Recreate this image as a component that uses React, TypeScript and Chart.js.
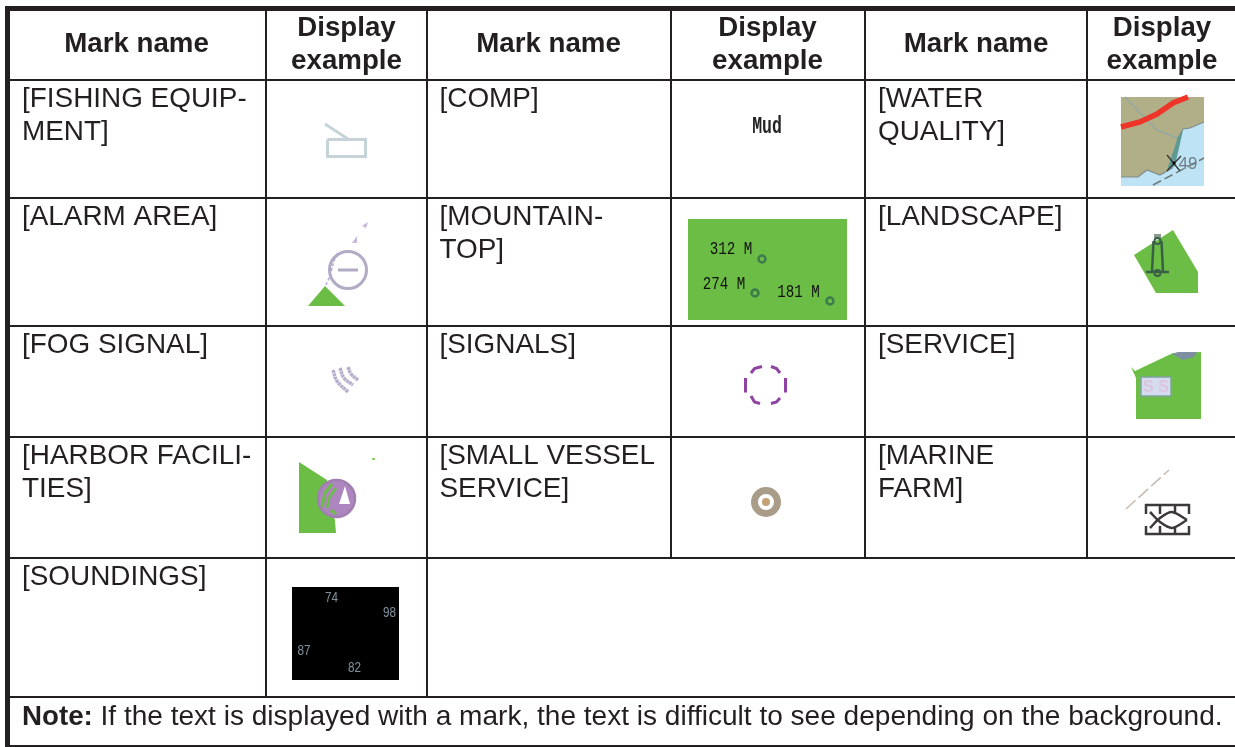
import React, { useEffect, useRef } from "react";
import { Chart, registerables } from "chart.js";

Chart.register(...registerables);

const WIDTH = 1235;
const HEIGHT = 747;
const INK = "#231f20";
const FONT = '"Liberation Sans", Arial, sans-serif';
const MONO = '"Liberation Mono", monospace';

// ---- table content ----
const headerName = "Mark name";
const headerExample = ["Display", "example"];
const column1Names = [["[FISHING EQUIP-", "MENT]"], ["[ALARM AREA]"], ["[FOG SIGNAL]"], ["[HARBOR FACILI-", "TIES]"], ["[SOUNDINGS]"]];
const column2Names = [["[COMP]"], ["[MOUNTAIN-", "TOP]"], ["[SIGNALS]"], ["[SMALL VESSEL", "SERVICE]"]];
const column3Names = [["[WATER", "QUALITY]"], ["[LANDSCAPE]"], ["[SERVICE]"], ["[MARINE", "FARM]"]];
const noteLead = "Note:";
const noteBody = " If the text is displayed with a mark, the text is difficult to see depending on the background.";
const compLabel = "Mud";
const mountainLabels = ["312 M", "274 M", "181 M"];
const soundingLabels = ["74", "98", "87", "82"];
const waterDepthLabel = "49";
const serviceLabel = "S S";

// ---- table rules ----
const columnRules = [266, 427, 671, 865, 1087];
const rowRules = [80, 198, 326, 437, 558, 697];
const rowTextTops = [80, 198, 326, 437, 558];

type Pt = { x: number; y: number };
const P = (x: number, y: number): Pt => ({ x, y });

const datasets: any[] = [];
const line = (pts: Pt[], color: string, width = 2, dash: number[] = [], tension = 0) =>
  datasets.push({
    data: pts, showLine: true, fill: false, borderColor: color, borderWidth: width,
    borderDash: dash, pointRadius: 0, tension, borderCapStyle: "butt", clip: false,
  });
const poly = (pts: Pt[], color: string, stroke?: string, width = 0) =>
  datasets.push({
    data: [...pts, pts[0]], showLine: true, fill: "shape", backgroundColor: color,
    borderColor: stroke ?? color, borderWidth: stroke ? width : 0, pointRadius: 0, tension: 0, clip: false,
  });
const rect = (x0: number, y0: number, x1: number, y1: number, color: string, stroke?: string, width = 0) =>
  poly([P(x0, y0), P(x1, y0), P(x1, y1), P(x0, y1)], color, stroke, width);
const dot = (pts: Pt[], r: number, fill: string, stroke = "rgba(0,0,0,0)", width = 0) =>
  datasets.push({
    data: pts, showLine: false, pointRadius: r, pointStyle: "circle", pointBackgroundColor: fill,
    pointBorderColor: stroke, pointBorderWidth: width, clip: false,
  });

// --- Fishing equipment
const PALE = "#c6d4d9";
rect(327.5, 139.5, 365.5, 156.5, "#ffffff", PALE, 3);
line([P(325, 124), P(348, 139)], PALE, 3);

// --- Alarm area
poly([P(308, 306), P(325, 286), P(345, 306)], "#6cbd45");
dot([P(348, 270)], 18.5, "#ffffff", "#b3abc6", 3);
line([P(338, 270), P(358, 270)], "#b3abc6", 3);
poly([P(362, 226), P(368, 222), P(366, 228)], "#c4b8dc");
poly([P(352, 243), P(357, 236), P(357, 243)], "#c4b8dc");
line([P(326, 285), P(329, 278), P(335, 258), P(342, 252)], "#b6a8d4", 1.5, [3, 2]);

// --- Fog signal
const FOG = "#b7aecb";
line([P(333, 370), P(337, 381), P(348, 392)], FOG, 3.5, [3, 0.5], 0.4);
line([P(340, 368), P(344, 378), P(353, 385)], FOG, 3.5, [3, 0.5], 0.4);
line([P(348, 367), P(351, 374), P(358, 380)], FOG, 3.5, [3, 0.5], 0.4);

// --- Harbor facilities
poly([P(299, 462), P(327, 480), P(335, 521), P(336, 533), P(299, 533)], "#6cbd45");
dot([P(336.5, 498.5)], 18.5, "#ad85bf", "#a07fb0", 2.5);
poly([P(345, 486), P(339, 504), P(350, 504)], "#ffffff");
line([P(322, 507), P(325, 493), P(332, 484)], "#6cbd45", 3);
line([P(327, 508), P(329, 498), P(336, 488)], "#6cbd45", 2.5);
line([P(331, 510), P(336, 514)], "#6cbd45", 3);
line([P(372, 459), P(375, 459)], "#6cbd45", 1.5);

// --- Mountain top
rect(688, 219, 847, 320, "#6cbd45");
dot([P(762, 259), P(755, 293), P(830, 301)], 3.5, "rgba(0,0,0,0)", "#3d7a4e", 2.5);

// --- Signals
const SIG = "#8e44a0";
line([P(785.5, 378), P(785.5, 392.5)], SIG, 3);
line([P(745.5, 378), P(745.5, 392.5)], SIG, 3);
line([P(751, 373), P(754.5, 368.5), P(762, 366.5)], SIG, 3);
line([P(771, 366.5), P(776.5, 368.5), P(780, 373)], SIG, 3);
line([P(751, 396), P(754.5, 402), P(760, 403.5)], SIG, 3);
line([P(771, 403.5), P(776.5, 402), P(780, 398)], SIG, 3);

// --- Small vessel service
dot([P(766, 502)], 11.5, "#ffffff", "#a99c88", 7);
dot([P(766, 502)], 4, "#c2a173");

// --- Water quality
rect(1121, 97, 1204, 186, "#bee3f5");
poly(
  [P(1121, 97), P(1204, 97), P(1204, 122), P(1190, 128), P(1183, 129), P(1178, 138), P(1172, 168), P(1160, 175), P(1147, 170), P(1138, 177), P(1121, 177)],
  "#b1af87"
);
line([P(1204, 122), P(1190, 128), P(1183, 129), P(1178, 138), P(1172, 168), P(1160, 175), P(1147, 170), P(1138, 177), P(1121, 177)], "#7f8c8c", 1.2);
poly([P(1178, 137), P(1183, 130), P(1175, 166), P(1167, 170)], "#5d9a94");
line([P(1125, 97), P(1147, 120), P(1157, 130), P(1177, 138)], "#95a9a3", 1.5);
line([P(1121, 127), P(1140, 122), P(1157, 114), P(1173, 103), P(1188, 97)], "#ee3529", 5.5);
line([P(1153, 185), P(1204, 158)], "#6f7a7a", 1.6, [9, 4]);
line([P(1167, 155), P(1180, 171)], "#333333", 1.2);
line([P(1167, 171), P(1181, 156)], "#333333", 1.2);
dot([P(1174, 163)], 1.5, "#000000");

// --- Landscape
poly([P(1173, 230), P(1198, 272), P(1198, 293), P(1156, 293), P(1134, 255)], "#6cbd45");
const TOWER = "#3a5f47";
line([P(1153.5, 241), P(1152, 272)], TOWER, 2.5);
line([P(1161.5, 241), P(1163, 272)], TOWER, 2.5);
line([P(1146, 272), P(1169, 272)], TOWER, 2.5);
line([P(1157.5, 234), P(1157.5, 238)], "#8a9a92", 7);
dot([P(1157.5, 241), P(1157.5, 273)], 3, "rgba(0,0,0,0)", TOWER, 2);

// --- Service
poly([P(1131, 367), P(1135, 371), P(1173, 353), P(1201, 352), P(1201, 419), P(1136, 419), P(1136, 378)], "#6cbd45");
poly([P(1172, 354), P(1178, 352), P(1197, 352), P(1194, 357), P(1183, 360)], "#7d8fa0");
rect(1141, 377, 1171, 396, "#d5dcef", "#7da29a", 1.5);

// --- Marine farm
const FARM = "#3c3a38";
line([P(1126, 509), P(1169, 470)], "#c6bdb2", 1.6, [13, 4]);
line([P(1145, 505), P(1190, 505)], FARM, 2.5);
line([P(1145, 534), P(1190, 534)], FARM, 2.5);
line([P(1146, 504), P(1146, 514)], FARM, 2.5);
line([P(1160, 504), P(1160, 514)], FARM, 2.5);
line([P(1175, 504), P(1175, 514)], FARM, 2.5);
line([P(1189, 504), P(1189, 514)], FARM, 2.5);
line([P(1146, 526), P(1146, 535)], FARM, 2.5);
line([P(1160, 526), P(1160, 535)], FARM, 2.5);
line([P(1175, 526), P(1175, 535)], FARM, 2.5);
line([P(1189, 526), P(1189, 535)], FARM, 2.5);
line([P(1150, 512), P(1160, 522), P(1172, 528), P(1187, 520)], FARM, 2.5, [], 0.3);
line([P(1150, 528), P(1160, 518), P(1172, 512), P(1187, 520)], FARM, 2.5, [], 0.3);

// --- Soundings
rect(292, 587, 399, 680, "#000000");

// --- Rules, thick frame last so it sits on top
columnRules.slice(0, 2).forEach((x) => line([P(x, 8), P(x, rowRules[5])], INK, 2));
columnRules.slice(2).forEach((x) => line([P(x, 8), P(x, rowRules[4])], INK, 2));
rowRules.forEach((y) => line([P(8, y), P(WIDTH, y)], INK, 2));
line([P(5, 746), P(WIDTH, 746)], INK, 2);
line([P(5, 8.5), P(WIDTH, 8.5)], INK, 5);
line([P(7.5, 6), P(7.5, 747)], INK, 5);

datasets.forEach((d, i) => (d.order = -i));

// ---- text placed in the same value space ----
type T = { t: string; x: number; y: number; font: string; color?: string; align?: CanvasTextAlign; sy?: number };
const texts: T[] = [];
const BODY = `27.9px ${FONT}`;
const BOLD = `bold 27.7px ${FONT}`;

[136.5, 548.5, 976].forEach((x) => texts.push({ t: headerName, x, y: 52, font: BOLD, align: "center" }));
[346.5, 767.5, 1162].forEach((x) => {
  texts.push({ t: headerExample[0], x, y: 36, font: BOLD, align: "center" });
  texts.push({ t: headerExample[1], x, y: 68.5, font: BOLD, align: "center" });
});
const nameColumn = (names: string[][], x: number) =>
  names.forEach((lines, r) =>
    lines.forEach((t, l) => texts.push({ t, x, y: rowTextTops[r] + 27 + l * 33, font: BODY }))
  );
nameColumn(column1Names, 22);
nameColumn(column2Names, 439.5);
nameColumn(column3Names, 878);

texts.push({ t: compLabel, x: 767, y: 133, font: `bold 16.5px ${MONO}`, color: "#222222", align: "center", sy: 1.45 });
const MOUNT = `14.2px ${MONO}`;
texts.push({ t: mountainLabels[0], x: 731, y: 254.3, font: MOUNT, color: "#111111", align: "center", sy: 1.25 });
texts.push({ t: mountainLabels[1], x: 724, y: 288.7, font: MOUNT, color: "#111111", align: "center", sy: 1.25 });
texts.push({ t: mountainLabels[2], x: 798.5, y: 296.7, font: MOUNT, color: "#111111", align: "center", sy: 1.25 });
const SOUND = `11.7px ${FONT}`;
const SOUND_C = "#84929e";
texts.push({ t: soundingLabels[0], x: 331.5, y: 602.3, font: SOUND, color: SOUND_C, align: "center", sy: 1.2 });
texts.push({ t: soundingLabels[1], x: 389.5, y: 617.3, font: SOUND, color: SOUND_C, align: "center", sy: 1.2 });
texts.push({ t: soundingLabels[2], x: 304, y: 655, font: SOUND, color: SOUND_C, align: "center", sy: 1.2 });
texts.push({ t: soundingLabels[3], x: 354.5, y: 672.3, font: SOUND, color: SOUND_C, align: "center", sy: 1.2 });
texts.push({ t: waterDepthLabel, x: 1188, y: 169, font: `17px ${FONT}`, color: "#727f88", align: "center" });
texts.push({ t: serviceLabel, x: 1156, y: 392, font: `bold 16px ${FONT}`, color: "#dcc4dd", align: "center" });

const tablePlugin = {
  id: "tableText",
  afterDatasetsDraw(chart: any) {
    const { ctx, scales } = chart;
    ctx.save();
    ctx.textBaseline = "alphabetic";
    texts.forEach((it) => {
      ctx.save();
      ctx.font = it.font;
      ctx.fillStyle = it.color ?? INK;
      ctx.textAlign = it.align ?? "left";
      ctx.translate(scales.x.getPixelForValue(it.x), scales.y.getPixelForValue(it.y));
      ctx.scale(1, it.sy ?? 1);
      ctx.fillText(it.t, 0, 0);
      ctx.restore();
    });
    ctx.textAlign = "left";
    ctx.fillStyle = INK;
    const noteX = scales.x.getPixelForValue(22);
    const noteY = scales.y.getPixelForValue(725);
    ctx.font = `bold 27.7px ${FONT}`;
    ctx.fillText(noteLead, noteX, noteY);
    const w = ctx.measureText(noteLead).width;
    ctx.font = `28.05px ${FONT}`;
    ctx.fillText(noteBody, noteX + w, noteY);
    ctx.restore();
  },
};

export default function App() {
  const ref = useRef<HTMLCanvasElement>(null);
  useEffect(() => {
    const chart = new Chart(ref.current as HTMLCanvasElement, {
      type: "scatter",
      data: { datasets },
      options: {
        animation: false,
        responsive: false,
        layout: { padding: 0, autoPadding: false },
        plugins: { legend: { display: false }, tooltip: { enabled: false }, title: { display: false } },
        scales: {
          x: { type: "linear", min: 0, max: WIDTH, display: false },
          y: { type: "linear", min: 0, max: HEIGHT, reverse: true, display: false },
        },
      },
      plugins: [tablePlugin],
    } as any);
    return () => chart.destroy();
  }, []);
  return (
    <canvas
      ref={ref}
      width={WIDTH}
      height={HEIGHT}
      style={{ position: "absolute", left: 0, top: 0, width: WIDTH, height: HEIGHT, display: "block", background: "#ffffff" }}
    />
  );
}
